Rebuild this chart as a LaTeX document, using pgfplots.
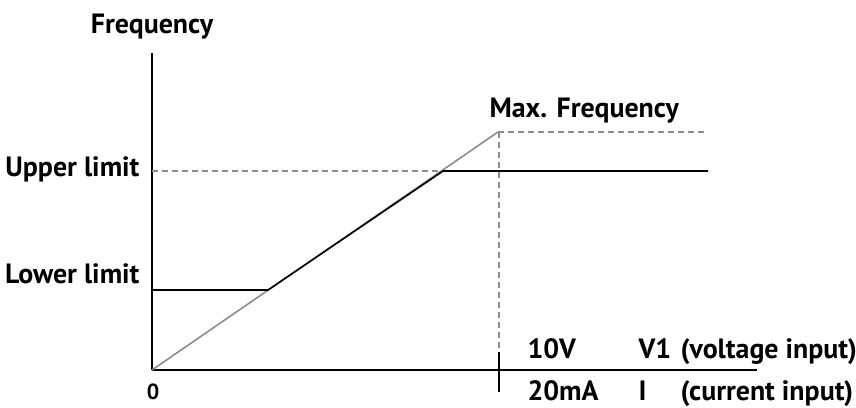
\documentclass[border=0pt]{standalone}
\usepackage{pgfplots}
\pgfplotsset{compat=1.18}
\usepackage{fontspec}
\setmainfont{PT Sans}
\definecolor{lgray}{HTML}{8C8C8C}
\begin{document}
\begin{tikzpicture}
\begin{axis}[
 x=1bp, y=1bp, xmin=0, xmax=605, ymin=0, ymax=317,
 axis x line=bottom, axis y line=left,
 axis line style={-, line width=2bp, black},
 xtick=\empty, ytick=\empty,
 clip=false,
 every node/.style={inner sep=0pt},
 font=\bfseries\fontsize{28}{32}\selectfont
]
\addplot[lgray, line width=1.6bp] coordinates {(0,0) (346,238)};
\addplot[lgray, line width=1.6bp, dash pattern=on 6bp off 4bp] coordinates {(346,238) (552,238)};
\addplot[lgray, line width=1.6bp, dash pattern=on 6bp off 4bp] coordinates {(0,199) (291,199)};
\addplot[lgray, line width=1.6bp, dash pattern=on 6bp off 4bp] coordinates {(347,238) (347,18)};
\addplot[black, line width=1.6bp] coordinates {(0,80) (116,80) (291,199) (556,199)};
\addplot[black, line width=1.6bp] coordinates {(347,18) (347,-22)};
\node[anchor=base] at (axis cs:0,337) {Frequency};
\node[anchor=base east] at (axis cs:-9,194) {Upper limit};
\node[anchor=base east] at (axis cs:-9,87) {Lower limit};
\node[anchor=base west] at (axis cs:334,253) {Max. Frequency};
\node[anchor=base, font=\bfseries\fontsize{22}{26}\selectfont] at (axis cs:1,-29) {0};
\node[anchor=base west] at (axis cs:372,12) {10V};
\node[anchor=base west] at (axis cs:483,12) {V1};
\node[anchor=base west] at (axis cs:525,12) {(voltage input)};
\node[anchor=base west] at (axis cs:372,-30) {20mA};
\node[anchor=base west] at (axis cs:483,-30) {I};
\node[anchor=base west] at (axis cs:525,-30) {(current input)};
\coordinate (bl) at (axis cs:-152,-37);
\coordinate (tr) at (axis cs:704,370);
\end{axis}
\pgfresetboundingbox
\path[use as bounding box] (bl) rectangle (tr);
\end{tikzpicture}
\end{document}
